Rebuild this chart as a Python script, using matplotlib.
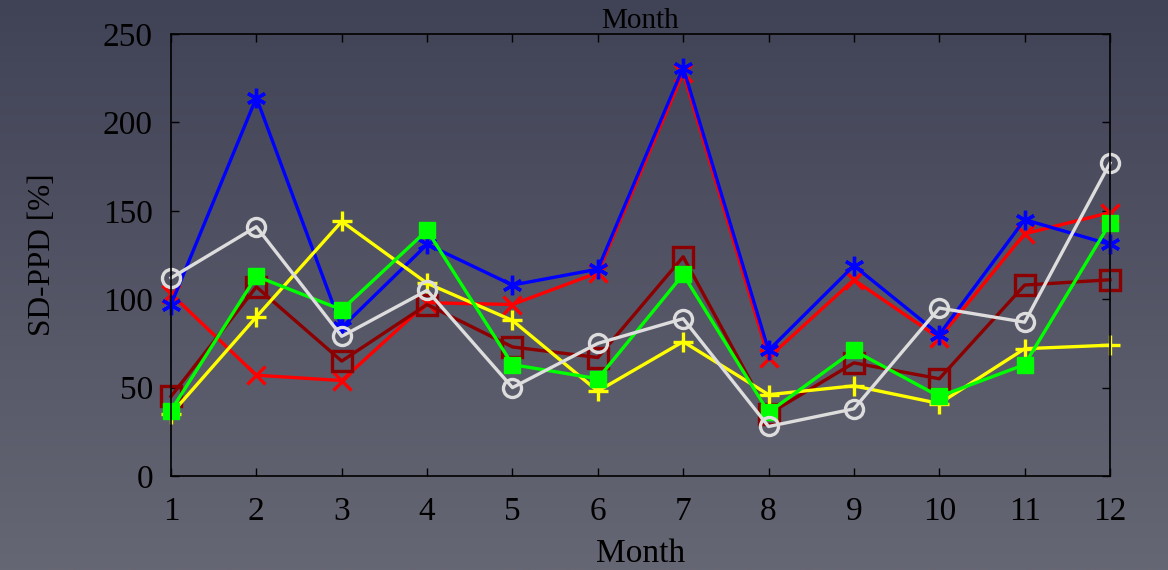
import matplotlib
matplotlib.use("Agg")
import matplotlib.pyplot as plt
import numpy as np
from matplotlib.colors import LinearSegmentedColormap

plt.rcParams['font.family'] = ['Liberation Serif', 'DejaVu Serif']

months = [1, 2, 3, 4, 5, 6, 7, 8, 9, 10, 11, 12]

red_x = [103, 57, 54, 98, 97, 115, 228, 67, 111, 78, 137, 149]
blue_star = [97, 214, 84, 131, 108, 117, 231, 71, 119, 80, 145, 131]
maroon_sq = [45, 107, 65, 97, 73, 67, 124, 35, 64, 55, 108, 111]
yellow_plus = [35, 90, 144, 109, 88, 48, 76, 46, 51, 41, 72, 74]
green_sq = [37, 113, 94, 139, 63, 55, 114, 36, 71, 45, 63, 143]
white_circ = [112, 141, 79, 105, 50, 75, 89, 28, 38, 95, 87, 177]

fig = plt.figure(figsize=(11.68, 5.70), dpi=100)

# gradient background
bg = fig.add_axes([0, 0, 1, 1], zorder=-10)
cmap = LinearSegmentedColormap.from_list("bg", ["#404256", "#666774"])
grad = np.linspace(0, 1, 256).reshape(-1, 1)
bg.imshow(grad, aspect='auto', cmap=cmap, extent=[0, 1, 0, 1], origin='upper')
bg.axis('off')

ax = fig.add_axes([171/1168, 94/570, (1110-171)/1168, (476-34)/570])
ax.patch.set_alpha(0)

lw = 2.4
style = dict(lw=lw, clip_on=False)
ax.plot(months, red_x, color='#ff0000', marker='x', ms=13, mew=2.4, **style)
ax.plot(months, blue_star, color='#0000ff', marker=(6, 2, 0), ms=14, mew=2.4, **style)
ax.plot(months, maroon_sq, color='#8b0000', marker='s', ms=14, mew=2.4,
        mfc='none', **style)
ax.plot(months, yellow_plus, color='#ffff00', marker='+', ms=15, mew=2.4, **style)
ax.plot(months, green_sq, color='#00ff00', marker='s', ms=12, mew=1, **style)
ax.plot(months, white_circ, color='#dddddd', marker='o', ms=13, mew=2.4,
        mfc='none', **style)

ax.set_xlim(1, 12)
ax.set_ylim(0, 250)
ax.set_xticks(months)
ax.set_yticks([0, 50, 100, 150, 200, 250])
ax.tick_params(direction='in', top=True, right=True, length=6, width=1,
               labelsize=24, colors='black')
ax.tick_params(axis='x', pad=15)
ax.tick_params(axis='y', pad=13)
for s in ax.spines.values():
    s.set_linewidth(1.2)

ax.set_title("Month", fontsize=21, pad=4)
ax.set_xlabel("Month", fontsize=24, labelpad=8)
ax.set_ylabel("SD-PPD [%]", fontsize=22.5, labelpad=33)

fig.savefig("out.png", dpi=100)
